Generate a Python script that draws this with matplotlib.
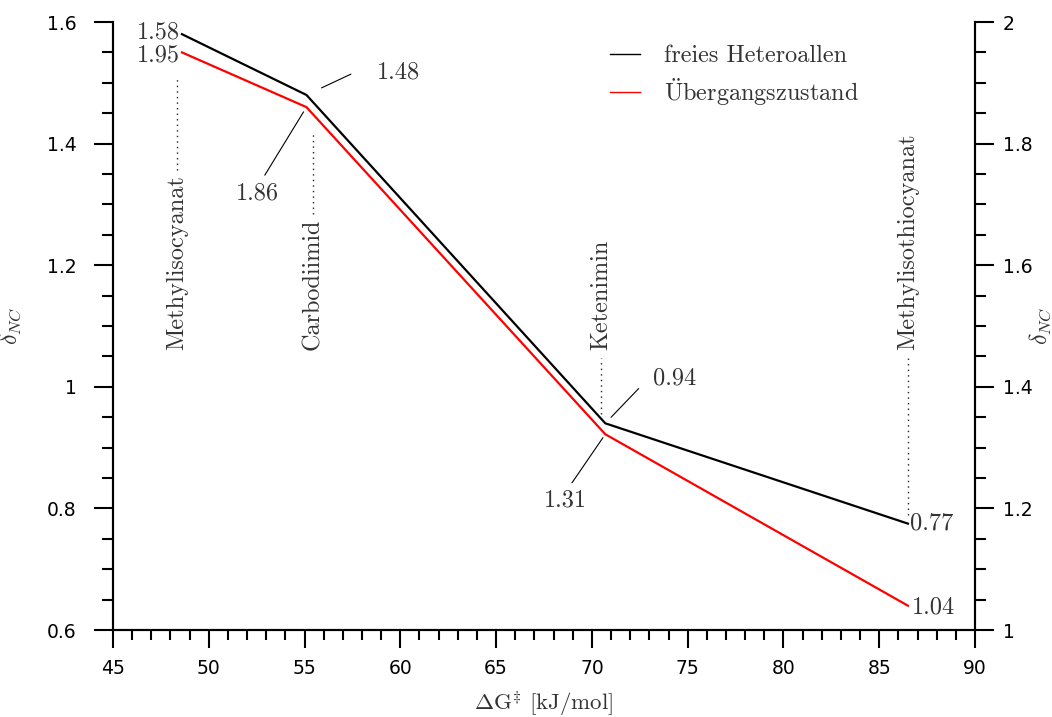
import matplotlib
matplotlib.use("Agg")
import matplotlib.pyplot as plt
from matplotlib.ticker import MultipleLocator, FuncFormatter

plt.rcParams['mathtext.fontset'] = 'cm'
plt.rcParams['axes.unicode_minus'] = False

# data
dG = [48.6, 55.1, 70.7, 86.5]                     # x, kJ/mol
delta_free = [1.58, 1.48, 0.94, 0.775]            # freies Heteroallen (left axis)
delta_ts = [1.95, 1.86, 1.322, 1.04]              # Übergangszustand (right axis)
free_labels = ["1.58", "1.48", "0.94", "0.77"]
ts_labels = ["1.95", "1.86", "1.31", "1.04"]
names = ["Methylisocyanat", "Carbodiimid", "Ketenimin", "Methylisothiocyanat"]

serif = ['cmr10', 'DejaVu Serif']
txt_col = '#333333'
fs = 17.5

fig = plt.figure(figsize=(10.52, 7.17), dpi=100)
ax = fig.add_axes([0.1074, 0.1213, 0.8194, 0.848])
ax2 = ax.twinx()

ax.plot(dG, delta_free, color='black', lw=1.6, solid_joinstyle='miter',
        label='freies Heteroallen')
ax2.plot(dG, delta_ts, color='red', lw=1.6, solid_joinstyle='miter',
         label=r'$\ddot{\mathrm{U}}$bergangszustand')

ax.set_xlim(45, 90)
ax.set_ylim(0.6, 1.6)
ax2.set_ylim(1.0, 2.0)

fmt = FuncFormatter(lambda v, p: f"{v:g}")
ax.xaxis.set_major_locator(MultipleLocator(5))
ax.xaxis.set_minor_locator(MultipleLocator(1))
ax.xaxis.set_major_formatter(fmt)
for a in (ax, ax2):
    a.yaxis.set_major_locator(MultipleLocator(0.2))
    a.yaxis.set_minor_locator(MultipleLocator(0.05))
    a.yaxis.set_major_formatter(fmt)
    a.spines['top'].set_visible(False)
    for s in a.spines.values():
        s.set_linewidth(1.5)

ax.tick_params(axis='x', which='major', length=13, width=1.5, labelsize=13.5, pad=8)
ax.tick_params(axis='x', which='minor', length=7, width=1.5)
ax.tick_params(axis='y', which='major', length=14, width=1.5, labelsize=13.5, pad=12)
ax.tick_params(axis='y', which='minor', length=8, width=1.5)
ax2.tick_params(axis='y', which='major', length=14, width=1.5, labelsize=13.5, pad=6)
ax2.tick_params(axis='y', which='minor', length=8, width=1.5)

ax.set_xlabel(r'$\Delta$G$^{\ddagger}$ [kJ/mol]', family=serif, fontsize=16.5,
              color=txt_col, labelpad=7)
ax.set_ylabel(r'$\delta_{NC}$', fontsize=17, color=txt_col)
ax2.set_ylabel(r'$\delta_{NC}$', fontsize=17, color=txt_col, rotation=90,
               va='center', ha='center')
ax.yaxis.set_label_coords(-0.104, 0.5)
ax2.yaxis.set_label_coords(1.076, 0.5)

# value labels: (text offset, leader end offset, shrink at point) in points
free_off = [((-1.5, 1), None, 0), ((66, 16), (32, 15), 12),
            ((50, 32), (24, 25), 6), ((1.5, 0), None, 0)]
ts_off = [((-1.5, -2), None, 0), ((-35, -62), (-30, -49), 4),
          ((-29, -48), (-24, -35), 3), ((3, -1), None, 0)]

def value_labels(axis, ys, labels, offs):
    for x, y, lab, (toff, loff, shr) in zip(dG, ys, labels, offs):
        if loff is None:
            ha = 'right' if toff[0] < 0 else 'left'
        else:
            ha = 'center'
            axis.annotate('', xy=(x, y), xytext=loff, textcoords='offset points',
                          arrowprops=dict(arrowstyle='-', lw=0.8, color='black',
                                          shrinkA=0, shrinkB=shr))
        axis.annotate(lab, xy=(x, y), xytext=toff, textcoords='offset points',
                      ha=ha, va='center', fontsize=fs, family=serif, color=txt_col)

value_labels(ax, delta_free, free_labels, free_off)
value_labels(ax2, delta_ts, ts_labels, ts_off)

# compound names with dotted guide lines
name_dx = [-3.5, 4.5, -3, 0]        # points, horizontal shift from data x
name_base = 1.06                    # left-axis value where the rotated text starts
fig.canvas.draw()
renderer = fig.canvas.get_renderer()
inv = ax.transData.inverted()
for i, (x, name, dx) in enumerate(zip(dG, names, name_dx)):
    t = ax.annotate(name, xy=(x, name_base), xytext=(dx, 0), textcoords='offset points',
                    rotation=90, ha='center', va='bottom', fontsize=fs,
                    family=serif, color=txt_col)
    bb = t.get_window_extent(renderer)
    xd = inv.transform((bb.x0 + bb.width / 2, 0))[0]
    ytop = inv.transform((0, bb.y1 + 5))[1]
    ybot = inv.transform((0, bb.y0 - 8))[1]
    if i < 2:
        lo = (delta_ts[i] - 0.4) - 0.04
        ax.plot([xd, xd], [ytop, lo], ls=(0, (1, 3)), lw=1.0, color='#222222')
    else:
        hi = delta_free[i] + 0.015
        ax.plot([xd, xd], [hi, ybot], ls=(0, (1, 3)), lw=1.0, color='#222222')

h1, l1 = ax.get_legend_handles_labels()
h2, l2 = ax2.get_legend_handles_labels()
leg = ax.legend(h1 + h2, l1 + l2, loc='upper left', bbox_to_anchor=(0.577, 0.962),
                frameon=False, prop=dict(family=serif, size=fs), handlelength=1.2,
                handletextpad=1.0, labelspacing=0.35, borderpad=0, borderaxespad=0)
for line in leg.get_lines():
    line.set_linewidth(1.0)
for t in leg.get_texts():
    t.set_color(txt_col)

fig.savefig('out.png', dpi=100)
